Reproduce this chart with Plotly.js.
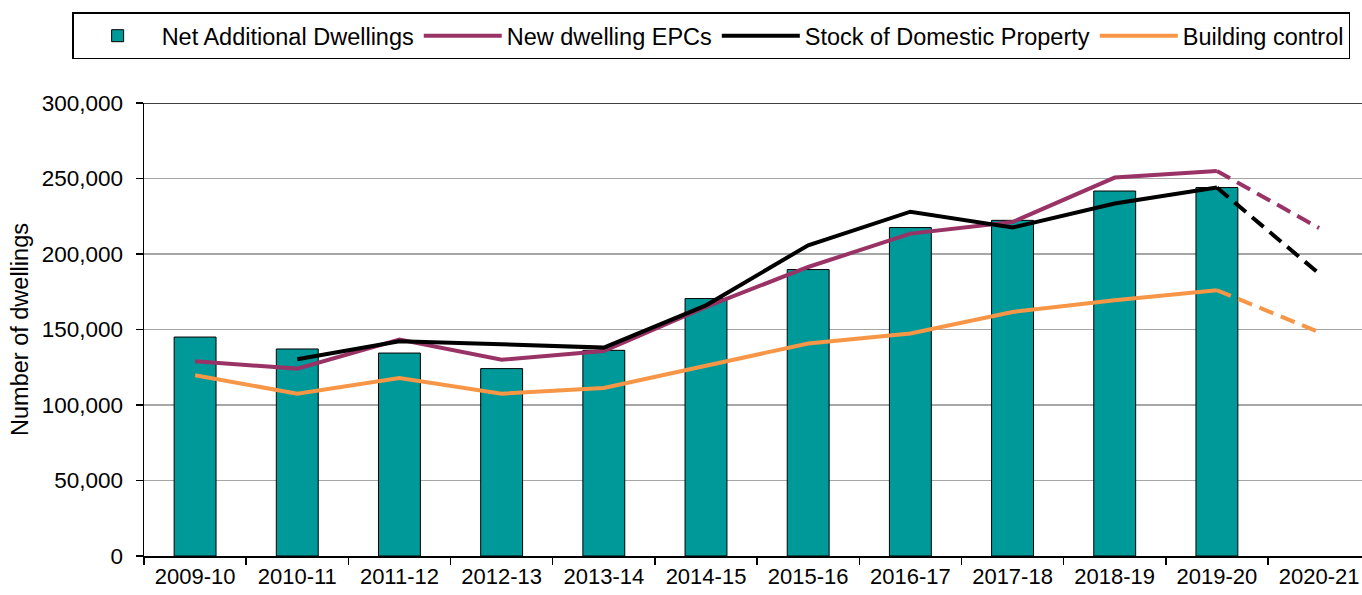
<!DOCTYPE html>
<html>
<head>
<meta charset="utf-8">
<script src="https://cdn.plot.ly/plotly-3.0.1.min.js"></script>
<style>html,body{margin:0;padding:0;background:#fff;}#chart{width:1362px;height:595px;}</style>
</head>
<body>
<div id="chart"></div>
<script>
const categories = ['2009-10','2010-11','2011-12','2012-13','2013-14','2014-15','2015-16','2016-17','2017-18','2018-19','2019-20','2020-21'];
const netAdditional = [145000,137100,134400,124100,136200,170500,189700,217500,222300,241700,244000,null];
const newEPCs = [128900,124100,143300,130000,135800,165000,191400,213500,221200,250600,255000,null];
const newEPCsProv = [null,null,null,null,null,null,null,null,null,null,255000,217200];
const stock = [null,130300,142200,140200,138000,166000,205800,228000,217500,233400,244000,null];
const stockProv = [null,null,null,null,null,null,null,null,null,null,244000,187000];
const buildingControl = [119700,107500,117900,107500,111300,126300,140700,147300,161600,169300,176000,null];
const buildingControlProv = [null,null,null,null,null,null,null,null,null,null,176000,148300];
const yTicks = [0,50000,100000,150000,200000,250000,300000];

const FONT = 'Liberation Sans, Arial, sans-serif';
const purple = '#993366', orange = '#F79646', teal = '#009999';

const traces = [
  {type:'bar', name:'Net Additional Dwellings', x:categories, y:netAdditional, width:0.41,
   marker:{color:teal, line:{color:'#000', width:1}}},
  {type:'scatter', mode:'lines', name:'New dwelling EPCs', x:categories, y:newEPCs,
   line:{color:purple, width:4}},
  {type:'scatter', mode:'lines', name:'Stock of Domestic Property', x:categories, y:stock,
   line:{color:'#000', width:4}},
  {type:'scatter', mode:'lines', name:'Building control', x:categories, y:buildingControl,
   line:{color:orange, width:4}},
  {type:'scatter', mode:'lines', showlegend:false, x:categories, y:newEPCsProv,
   line:{color:purple, width:4, dash:'15px,8px'}},
  {type:'scatter', mode:'lines', showlegend:false, x:categories, y:stockProv,
   line:{color:'#000', width:4, dash:'15px,8px'}},
  {type:'scatter', mode:'lines', showlegend:false, x:categories, y:buildingControlProv,
   line:{color:orange, width:4, dash:'15px,8px'}}
];

const layout = {
  width:1362, height:595,
  margin:{l:144, r:0, t:103, b:39},
  paper_bgcolor:'#fff', plot_bgcolor:'#fff',
  font:{family:FONT, size:22, color:'#000'},
  showlegend:true,
  legend:{orientation:'h', x:-0.059, xanchor:'left', y:1.2, yanchor:'top', itemwidth:78,
          bordercolor:'#000', borderwidth:1.5, font:{size:23.5, family:FONT, color:'#000'},
          traceorder:'normal'},
  xaxis:{type:'category', range:[-0.5, 11.42], showgrid:false, showline:true, linecolor:'#000', linewidth:1.5,
         ticks:'outside', tickson:'boundaries', ticklen:7, tickcolor:'#000', tickwidth:1.5,
         tickfont:{size:22, family:FONT, color:'#000'}, automargin:false},
  yaxis:{range:[0,300000], tickvals:yTicks, tickformat:',', showgrid:true, gridcolor:'#a6a6a6', gridwidth:1.5,
         showline:true, linecolor:'#000', linewidth:1.5, ticks:'outside', ticklen:7, tickcolor:'#000', tickwidth:1.5,
         ticklabelstandoff:8, zeroline:false,
         tickfont:{size:22.5, family:FONT, color:'#000'}, automargin:false,
         title:{text:'Number of dwellings', font:{size:23.5, family:FONT, color:'#000'}, standoff:6}},
  shapes:[{type:'line', xref:'paper', yref:'y', x0:0, x1:1, y0:300000, y1:300000, line:{color:'#000', width:1.5}}],
  bargap:0.59
};

Plotly.newPlot('chart', traces, layout, {displayModeBar:false, staticPlot:true});
</script>
</body>
</html>
